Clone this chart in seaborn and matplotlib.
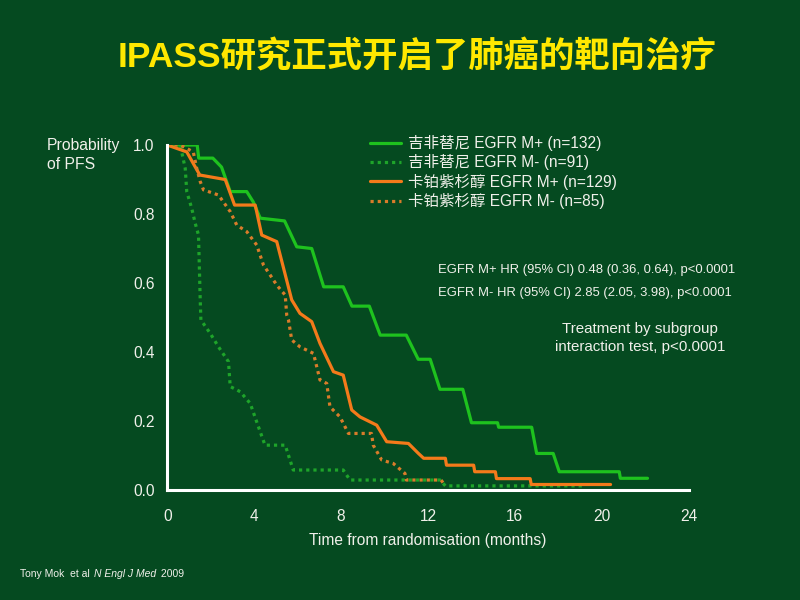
import matplotlib
matplotlib.use("Agg")
import matplotlib.pyplot as plt
import seaborn as sns
import pandas as pd
from matplotlib.lines import Line2D

# ---- data ----
series_names = ["吉非替尼 EGFR M+ (n=132)", "吉非替尼 EGFR M- (n=91)",
                "卡铂紫杉醇 EGFR M+ (n=129)", "卡铂紫杉醇 EGFR M- (n=85)"]

gef_pos_t = [0, 1.38, 1.45, 2.1, 2.5, 2.9, 3.66, 3.96, 4.28, 5.4, 5.96, 6.65, 7.2, 8.1, 8.5,
             9.3, 9.8, 11.0, 11.55, 12.1, 12.55, 13.6, 14.0, 15.2, 15.25, 16.77, 17.0, 17.76,
             18.04, 20.8, 20.85, 22.1]
gef_pos_s = [1.0, 1.0, 0.962, 0.962, 0.936, 0.865, 0.865, 0.835, 0.788, 0.78, 0.705, 0.70,
             0.589, 0.589, 0.533, 0.533, 0.449, 0.449, 0.379, 0.379, 0.292, 0.292, 0.195,
             0.195, 0.182, 0.182, 0.106, 0.106, 0.053, 0.053, 0.034, 0.034]

gef_neg_t = [0, 0.6, 0.83, 0.9, 1.13, 1.29, 1.44, 1.52, 1.55, 1.98, 2.36, 2.82, 2.9, 3.36,
             3.82, 4.2, 4.5, 5.43, 5.8, 8.1, 8.41, 12.55, 12.8, 19.2]
gef_neg_s = [1.0, 1.0, 0.932, 0.865, 0.816, 0.773, 0.739, 0.55, 0.493, 0.454, 0.415, 0.372,
             0.30, 0.285, 0.251, 0.183, 0.13, 0.13, 0.058, 0.058, 0.029, 0.029, 0.012, 0.012]

carb_pos_t = [0, 0.9, 1.5, 2.67, 3.1, 4.05, 4.35, 5.04, 5.73, 6.11, 6.65, 7.03, 7.65, 8.1,
              8.49, 8.87, 9.64, 10.1, 11.1, 11.56, 11.8, 12.8, 12.85, 14.1, 14.15, 15.1,
              15.15, 16.7, 16.75, 20.4]
carb_pos_s = [1.0, 0.98, 0.913, 0.90, 0.826, 0.826, 0.739, 0.72, 0.551, 0.512, 0.488, 0.425,
              0.343, 0.333, 0.232, 0.212, 0.188, 0.14, 0.135, 0.106, 0.092, 0.092, 0.072,
              0.072, 0.053, 0.053, 0.033, 0.033, 0.016, 0.016]

carb_neg_t = [0, 0.6, 1.2, 1.36, 1.52, 1.67, 2.36, 2.9, 3.2, 3.66, 4.12, 4.43, 4.74, 5.04,
              5.43, 5.5, 5.58, 5.73, 6.11, 6.73, 7.03, 7.34, 7.49, 7.95, 8.34, 9.4, 9.48,
              9.87, 10.4, 10.94, 11.0, 12.6, 12.8]
carb_neg_s = [1.0, 1.0, 0.98, 0.932, 0.894, 0.87, 0.855, 0.807, 0.768, 0.749, 0.71, 0.652,
              0.623, 0.594, 0.565, 0.507, 0.493, 0.435, 0.415, 0.396, 0.319, 0.309, 0.241,
              0.212, 0.164, 0.164, 0.13, 0.087, 0.077, 0.048, 0.029, 0.029, 0.012]

x_ticks = [0, 4, 8, 12, 16, 20, 24]
y_ticks = [0.0, 0.2, 0.4, 0.6, 0.8, 1.0]

# ---- styling ----
BG = "#054a20"
TXT = "#f0f0ea"
GREEN = "#1ec21e"
GREEN_D = "#1ea42a"
ORANGE = "#f47a1a"
ORANGE_D = "#d97c2a"

sns.set_theme(style="white")
plt.rcParams["font.family"] = ["Liberation Sans", "Noto Sans CJK SC", "DejaVu Sans"]

frames = []
for name, t, s in zip(series_names,
                      [gef_pos_t, gef_neg_t, carb_pos_t, carb_neg_t],
                      [gef_pos_s, gef_neg_s, carb_pos_s, carb_neg_s]):
    frames.append(pd.DataFrame({"t": t, "s": s, "grp": name}))
df = pd.concat(frames, ignore_index=True)

palette = {series_names[0]: GREEN, series_names[1]: GREEN_D,
           series_names[2]: ORANGE, series_names[3]: ORANGE_D}
dashes = {series_names[0]: "", series_names[1]: (1, 1.25),
          series_names[2]: "", series_names[3]: (1, 1.25)}

fig = plt.figure(figsize=(8, 6), dpi=100, facecolor=BG)
ax = fig.add_axes([0.209, 0.1833, 0.652, 0.575])
ax.set_facecolor(BG)

sns.lineplot(data=df, x="t", y="s", hue="grp", style="grp", palette=palette,
             dashes=dashes, estimator=None, sort=False, units="grp",
             linewidth=2.3, legend=False, ax=ax)

ax.set_xlim(0, 24)
ax.set_ylim(0, 1.0)
ax.set_xticks(x_ticks)
ax.set_xticklabels([str(v) for v in x_ticks])
ax.set_yticks(y_ticks)
ax.set_yticklabels([f"{v:.1f}" for v in y_ticks])
for sp in ["top", "right"]:
    ax.spines[sp].set_visible(False)
for sp in ["left", "bottom"]:
    ax.spines[sp].set_color("white")
    ax.spines[sp].set_linewidth(2.2)
    ax.spines[sp].set_zorder(5)
ax.tick_params(axis="both", colors="white", width=2.2, direction="out",
               labelsize=11.2, labelcolor=TXT)
ax.tick_params(axis="x", length=9.5, pad=4)
ax.tick_params(axis="y", length=6, pad=3)
ax.set_xlabel("Time from randomisation (months)", color=TXT, fontsize=11.2, labelpad=7)
ax.set_ylabel("")
ax.spines["left"].set_bounds(0, 1.0)

# y label at top-left
fig.text(47 / 800, 1 - 155 / 600, "Probability\nof PFS", color=TXT, fontsize=11.3,
         ha="left", va="center", linespacing=1.3)

# legend
handles = [Line2D([], [], color=GREEN, lw=2.3),
           Line2D([], [], color=GREEN_D, lw=2.3, linestyle=(0, (1, 1.25))),
           Line2D([], [], color=ORANGE, lw=2.3),
           Line2D([], [], color=ORANGE_D, lw=2.3, linestyle=(0, (1, 1.25)))]
leg = ax.legend(handles, series_names, loc="upper left",
                bbox_to_anchor=(370 / 800, 1 - 135 / 600), bbox_transform=fig.transFigure,
                frameon=False, fontsize=11.2, handlelength=2.0, handletextpad=0.45,
                labelspacing=0.22, borderaxespad=0, borderpad=0)
for tx in leg.get_texts():
    tx.set_color(TXT)

# annotations
fig.text(438 / 800, 1 - 270 / 600, "EGFR M+ HR (95% CI) 0.48 (0.36, 0.64), p<0.0001",
         color=TXT, fontsize=9.4, ha="left", va="center")
fig.text(438 / 800, 1 - 293 / 600, "EGFR M- HR (95% CI) 2.85 (2.05, 3.98), p<0.0001",
         color=TXT, fontsize=9.4, ha="left", va="center")
fig.text(640 / 800, 1 - 338 / 600, "Treatment by subgroup\ninteraction test, p<0.0001",
         color=TXT, fontsize=10.9, ha="center", va="center", linespacing=1.28)

# title
fig.text(417 / 800, 1 - 57 / 600, "IPASS研究正式开启了肺癌的靶向治疗", color="#ffe800",
         fontsize=25.5, fontweight="bold", ha="center", va="center",
         family=["Liberation Sans", "Noto Sans CJK SC"])

# footer (pieces placed one after another)
fig.canvas.draw()
renderer = fig.canvas.get_renderer()
x0 = 20 / 800
yf = 1 - 574 / 600
pieces = [("Tony Mok  et al ", "normal"), ("N Engl J Med", "italic"), (" 2009", "normal")]
for txt, st in pieces:
    t = fig.text(x0, yf, txt, color=TXT, fontsize=7.5, style=st, ha="left", va="center")
    bb = t.get_window_extent(renderer=renderer)
    x0 = (bb.x1 + 1.5) / fig.bbox.width

fig.savefig("out.png", dpi=100, facecolor=BG)
